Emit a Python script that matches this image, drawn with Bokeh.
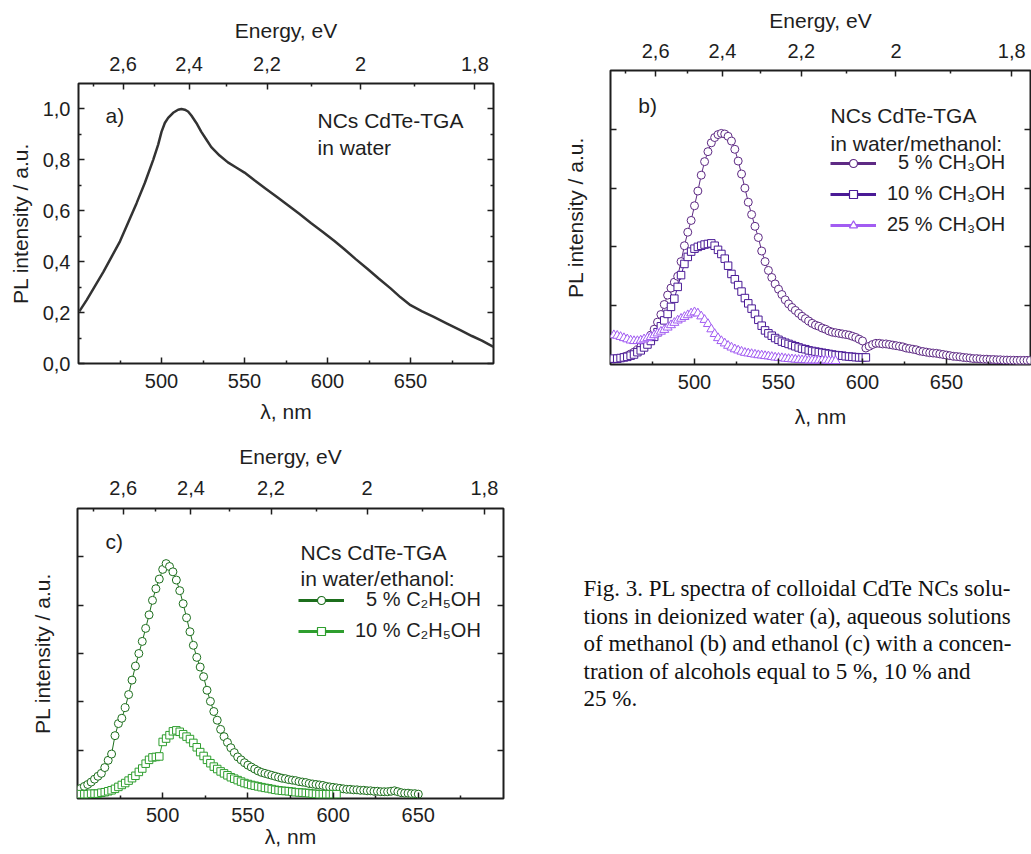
import numpy as np
from bokeh.plotting import figure
from bokeh.models import (Range1d, LinearAxis, FixedTicker, CustomJSTickFormatter,
                          Label, Legend, LegendItem)
from bokeh.layouts import row, column
from bokeh.embed import file_html
from bokeh.resources import INLINE

FONT = "Liberation Sans"
SERIF = "Liberation Serif"
INK = "#1e1e1e"
HC = 1239.84

# ---------------- data ----------------
wl_ticks = [500, 550, 600, 650]
wl_minor = [475, 525, 575, 625, 675]
energy_ticks = [2.6, 2.4, 2.2, 2.0, 1.8]
energy_minor = [2.7, 2.5, 2.3, 2.1, 1.9]

# (a) CdTe-TGA in water
wl_a = [450.5, 455, 460, 465, 470, 475, 480, 485, 490, 495, 498, 500, 502, 504, 507, 510,
        512, 514, 516, 518, 521, 524, 527, 530, 535, 540, 545, 550, 556, 563, 570, 577,
        583, 590, 597, 604, 610, 617, 624, 631, 638, 644, 650, 657, 664, 672, 680, 687,
        693, 700]
pl_a = [0.205, 0.25, 0.305, 0.36, 0.42, 0.48, 0.555, 0.63, 0.71, 0.80, 0.86, 0.91, 0.945,
        0.965, 0.985, 0.997, 1.0, 0.997, 0.99, 0.974, 0.945, 0.91, 0.88, 0.85, 0.817, 0.79,
        0.77, 0.75, 0.72, 0.686, 0.652, 0.618, 0.588, 0.552, 0.518, 0.482, 0.45, 0.41,
        0.372, 0.333, 0.295, 0.26, 0.229, 0.205, 0.183, 0.157, 0.131, 0.108, 0.09, 0.065]

# (b) water / methanol
wl_b5 = list(range(452, 702, 2))
pl_b5 = [0.09, 0.10, 0.11, 0.13, 0.15, 0.18, 0.21, 0.25, 0.30, 0.35,
         0.42, 0.50, 0.60, 0.72, 0.85, 1.02, 1.18, 1.30, 1.40, 1.50,
         1.75, 2.02, 2.25, 2.45, 2.70, 2.95, 3.22, 3.45, 3.62, 3.77,
         3.86, 3.91, 3.93, 3.92, 3.88, 3.80, 3.66, 3.46, 3.24, 3.00,
         2.76, 2.55, 2.35, 2.16, 1.93, 1.75, 1.60, 1.48, 1.37, 1.28,
         1.19, 1.10, 1.03, 0.97, 0.92, 0.87, 0.82, 0.78, 0.74, 0.70,
         0.67, 0.65, 0.62, 0.60, 0.57, 0.55, 0.54, 0.53, 0.52, 0.51,
         0.50, 0.48, 0.46, 0.43, 0.40, 0.28, 0.31, 0.34, 0.36, 0.36,
         0.35, 0.35, 0.34, 0.33, 0.32, 0.31, 0.30, 0.28, 0.27, 0.26,
         0.25, 0.23, 0.22, 0.21, 0.20, 0.195, 0.19, 0.18, 0.17, 0.16,
         0.15, 0.14, 0.135, 0.13, 0.12, 0.115, 0.11, 0.10, 0.10, 0.095,
         0.09, 0.09, 0.085, 0.085, 0.08, 0.08, 0.075, 0.075, 0.073, 0.072,
         0.07, 0.07, 0.07, 0.07, 0.07]
wl_b10 = list(range(452, 604, 2))
pl_b10 = [0.10, 0.10, 0.11, 0.12, 0.13, 0.15, 0.17, 0.21, 0.24, 0.29,
          0.34, 0.40, 0.47, 0.55, 0.65, 0.75, 0.86, 0.98, 1.12, 1.32,
          1.52, 1.71, 1.83, 1.92, 1.97, 2.00, 2.02, 2.04, 2.05, 2.06,
          2.02, 1.95, 1.88, 1.80, 1.68, 1.54, 1.45, 1.35, 1.24, 1.13,
          1.04, 0.95, 0.86, 0.76, 0.66, 0.58, 0.53, 0.49, 0.45, 0.42,
          0.39, 0.37, 0.35, 0.33, 0.31, 0.29, 0.27, 0.26, 0.24, 0.23,
          0.22, 0.21, 0.20, 0.19, 0.18, 0.17, 0.16, 0.155, 0.15, 0.14,
          0.135, 0.13, 0.125, 0.12, 0.12, 0.12]
wl_b25 = list(range(452, 586, 2))
pl_b25 = [0.50, 0.49, 0.47, 0.45, 0.43, 0.41, 0.40, 0.40, 0.41, 0.43,
          0.45, 0.47, 0.50, 0.53, 0.56, 0.59, 0.63, 0.67, 0.71, 0.75,
          0.78, 0.81, 0.84, 0.87, 0.89, 0.87, 0.82, 0.76, 0.69, 0.60,
          0.52, 0.45, 0.40, 0.36, 0.32, 0.29, 0.26, 0.24, 0.22, 0.20,
          0.19, 0.18, 0.17, 0.16, 0.155, 0.145, 0.14, 0.13, 0.12, 0.115,
          0.11, 0.10, 0.095, 0.09, 0.085, 0.08, 0.075, 0.075, 0.07, 0.07,
          0.07, 0.07, 0.07, 0.07, 0.065, 0.06, 0.06]

# (c) water / ethanol
wl_c5 = list(range(452, 652, 2))
pl_c5 = [0.21, 0.25, 0.29, 0.34, 0.40, 0.46, 0.52, 0.64, 0.79, 0.92,
         1.30, 1.55, 1.66, 1.88, 2.15, 2.45, 2.74, 3.00, 3.25, 3.52,
         3.80, 4.10, 4.34, 4.54, 4.74, 4.86, 4.80, 4.69, 4.52, 4.30,
         4.03, 3.74, 3.45, 3.17, 2.92, 2.72, 2.52, 2.24, 2.01, 1.80,
         1.62, 1.43, 1.28, 1.16, 1.05, 0.95, 0.86, 0.80, 0.74, 0.69,
         0.65, 0.61, 0.57, 0.54, 0.52, 0.50, 0.48, 0.46, 0.44, 0.42,
         0.41, 0.39, 0.38, 0.37, 0.35, 0.34, 0.33, 0.31, 0.30, 0.29,
         0.28, 0.27, 0.25, 0.24, 0.23, 0.22, 0.21, 0.20, 0.19, 0.19,
         0.18, 0.18, 0.17, 0.17, 0.16, 0.16, 0.15, 0.15, 0.14, 0.14,
         0.14, 0.15, 0.16, 0.14, 0.12, 0.11, 0.11, 0.10, 0.10, 0.09]
wl_c10 = list(range(452, 604, 2))
pl_c10 = [0.09, 0.09, 0.09, 0.10, 0.10, 0.10, 0.12, 0.13, 0.15, 0.17,
          0.20, 0.24, 0.28, 0.32, 0.37, 0.42, 0.47, 0.55, 0.62, 0.72,
          0.80, 0.85, 0.86, 0.87, 1.17, 1.24, 1.31, 1.39, 1.41, 1.38,
          1.33, 1.28, 1.23, 1.15, 1.06, 0.96, 0.88, 0.80, 0.73, 0.66,
          0.61, 0.56, 0.52, 0.48, 0.44, 0.41, 0.38, 0.35, 0.32, 0.30,
          0.28, 0.265, 0.25, 0.235, 0.22, 0.21, 0.195, 0.18, 0.17, 0.16,
          0.155, 0.15, 0.14, 0.13, 0.125, 0.12, 0.115, 0.11, 0.10, 0.095,
          0.09, 0.09, 0.09, 0.09, 0.09, 0.09]

caption_lines = [
    "Fig. 3. PL spectra of colloidal CdTe NCs solu-",
    "tions in deionized water (a), aqueous solutions",
    "of methanol (b) and ethanol (c) with a concen-",
    "tration of alcohols equal to 5 %, 10 % and",
    "25 %.",
]

# ---------------- helpers ----------------
ENERGY_FMT = CustomJSTickFormatter(
    code="const e = Math.round(12398.4 / tick) / 10; return String(e).replace('.', ',');")
Y_FMT = CustomJSTickFormatter(code="return tick.toFixed(1).replace('.', ',');")


def blank_fmt():
    return CustomJSTickFormatter(code="return '';")


def style(ax):
    ax.axis_line_color = None
    ax.major_tick_in = 6
    ax.major_tick_out = 0
    ax.minor_tick_in = 3
    ax.minor_tick_out = 0
    ax.major_tick_line_color = INK
    ax.minor_tick_line_color = INK
    ax.major_tick_line_width = 1.5
    ax.minor_tick_line_width = 1.5
    ax.major_label_text_font = FONT
    ax.major_label_text_font_size = "20px"
    ax.major_label_text_color = INK
    ax.axis_label_text_font = FONT
    ax.axis_label_text_font_size = "21px"
    ax.axis_label_text_font_style = "normal"
    ax.axis_label_text_color = INK


def panel(w, h, bl, br, bt, bb, ymax, yt, ym, ylabels, ystd, top_tick_std, top_std,
          bot_tick_std, bot_std):
    p = figure(width=w, height=h, x_range=Range1d(450, 700), y_range=Range1d(0, ymax),
               output_backend="svg", toolbar_location=None,
               x_axis_location=None, y_axis_location=None,
               min_border_left=bl, min_border_right=br,
               min_border_top=bt, min_border_bottom=bb, frame_align=False)
    p.outline_line_color = INK
    p.outline_line_width = 2
    p.xgrid.visible = False
    p.ygrid.visible = False
    p.extra_y_ranges = {"legend_only": Range1d(1000, 1001)}

    bottom = LinearAxis(ticker=FixedTicker(ticks=wl_ticks, minor_ticks=wl_minor),
                        axis_label="λ, nm")
    style(bottom)
    bottom.major_label_standoff = bot_tick_std
    bottom.axis_label_standoff = bot_std
    p.add_layout(bottom, "below")

    top = LinearAxis(ticker=FixedTicker(ticks=[HC / e for e in energy_ticks],
                                        minor_ticks=[HC / e for e in energy_minor]),
                     formatter=ENERGY_FMT, axis_label="Energy, eV")
    style(top)
    top.major_label_standoff = top_tick_std
    top.axis_label_standoff = top_std
    p.add_layout(top, "above")

    left = LinearAxis(ticker=FixedTicker(ticks=yt, minor_ticks=ym),
                      formatter=Y_FMT if ylabels else blank_fmt(),
                      axis_label="PL intensity / a.u.")
    style(left)
    left.major_label_standoff = 8
    left.axis_label_standoff = ystd
    p.add_layout(left, "left")

    right = LinearAxis(ticker=FixedTicker(ticks=yt, minor_ticks=ym), formatter=blank_fmt())
    style(right)
    right.major_label_standoff = 0
    p.add_layout(right, "right")
    return p


def note(p, x, y, text, size="21px"):
    p.add_layout(Label(x=x, y=y, text=text, text_font=FONT, text_font_size=size,
                       text_color=INK, text_baseline="alphabetic"))


def series(p, wl, pl, color, marker, size):
    p.line(wl, pl, line_color=color, line_width=1)
    p.scatter(wl, pl, marker=marker, size=size, line_color=color, line_width=1,
              fill_color="white")


def legend(p, entries, loc):
    # legend samples: same series drawn on an off-screen range, so only the key shows them
    items = []
    for lab, col, mk, wl, pl in entries:
        dl = p.line(wl, pl, line_color=col, line_width=3, y_range_name="legend_only")
        ds = p.scatter(wl, pl, marker=mk, line_color=col, line_width=1.2,
                       fill_color="white", y_range_name="legend_only")
        items.append(LegendItem(label=lab, renderers=[dl, ds]))
    lg = Legend(items=items, location=loc, orientation="vertical",
                glyph_width=46, glyph_height=20, label_height=20, label_standoff=11,
                spacing=8, padding=0, margin=0, border_line_color=None,
                background_fill_alpha=0, label_text_font=FONT,
                label_text_font_size="20px", label_text_color=INK)
    p.add_layout(lg)


# ---------------- panel a ----------------
pa = panel(555, 440, 78, 62, 83, 77, 1.1, [0, 0.2, 0.4, 0.6, 0.8, 1.0],
           [0.1, 0.3, 0.5, 0.7, 0.9], True, 8, 13, 12, 10, 9)
pa.line(wl_a, pl_a, line_color="#333333", line_width=2.5)
note(pa, 466.3, 0.975, "a)")
note(pa, 594, 0.953, "NCs CdTe-TGA")
note(pa, 594, 0.847, "in water")

# ---------------- panel b ----------------
C_B5, C_B10, C_B25 = "#5e2a84", "#4a1a96", "#a25cf2"
pb = panel(476, 440, 55, 1, 70, 76, 5, [1, 2, 3, 4], [], False, 24, 13, 9, 10, 13)
series(pb, wl_b5, pl_b5, C_B5, "circle", 8)
series(pb, wl_b10, pl_b10, C_B10, "square", 7.5)
series(pb, wl_b25, pl_b25, C_B25, "triangle", 9)
note(pb, 466.5, 4.40, "b)")
note(pb, 581, 4.235, "NCs CdTe-TGA")
note(pb, 581, 3.76, "in water/methanol:")
legend(pb, [("\u20075 % CH\u2083OH", C_B5, "circle", wl_b5, pl_b5),
            ("10 % CH\u2083OH", C_B10, "square", wl_b10, pl_b10),
            ("25 % CH\u2083OH", C_B25, "triangle", wl_b25, pl_b25)], (220, 128))

# ---------------- panel c ----------------
C_C5, C_C10 = "#1c6e1c", "#2e9e2e"
pc = panel(555, 414, 77, 52, 68, 56, 6, [1, 2, 3, 4, 5], [], False, 24, 14, 10, 9, 0)
series(pc, wl_c5, pl_c5, C_C5, "circle", 8)
series(pc, wl_c10, pl_c10, C_C10, "square", 7.5)
note(pc, 466.4, 5.32, "c)")
note(pc, 580.9, 5.09, "NCs CdTe-TGA")
note(pc, 580.9, 4.55, "in water/ethanol:")
legend(pc, [("\u20075 % C\u2082H\u2085OH", C_C5, "circle", wl_c5, pl_c5),
            ("10 % C\u2082H\u2085OH", C_C10, "square", wl_c10, pl_c10)], (221, 156))

# ---------------- caption ----------------
CAP_W, CAP_H = 476, 414
cap = figure(width=CAP_W, height=CAP_H, x_range=Range1d(0, CAP_W), y_range=Range1d(0, CAP_H),
             output_backend="svg", toolbar_location=None,
             x_axis_location=None, y_axis_location=None,
             min_border_left=0, min_border_right=0, min_border_top=0, min_border_bottom=0,
             frame_align=False)
cap.outline_line_color = None
cap.xgrid.visible = False
cap.ygrid.visible = False
for i, line in enumerate(caption_lines):
    cap.add_layout(Label(x=28, y=266 - 27.5 * i, text=line, text_font=SERIF,
                         text_font_size="23px", text_color="#111111",
                         text_baseline="alphabetic"))

layout = column(row(pa, pb), row(pc, cap))
open("out.html", "w").write(file_html(layout, INLINE))
